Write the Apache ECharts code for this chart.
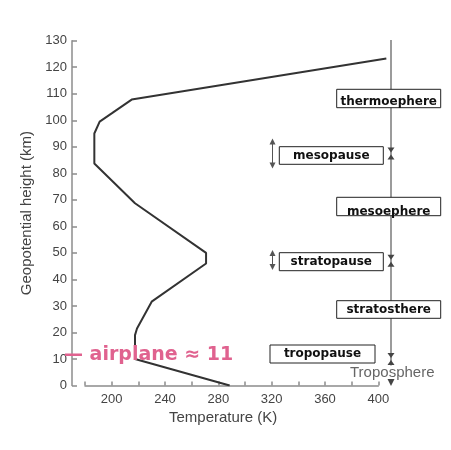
<!DOCTYPE html>
<html>
<head>
<meta charset="utf-8">
<script src="https://cdn.jsdelivr.net/npm/echarts@6/dist/echarts.min.js"></script>
<style>html,body{margin:0;padding:0;background:#fff;}#c{width:451px;height:450px;}</style>
</head>
<body>
<div id="c"></div>
<script>
// Temperature profile (K) vs geopotential height (km)
const temperature = [288.5, 217.5, 217.5, 219, 230, 270.8, 270.8, 217.5, 187, 187, 191, 200, 215, 406];
const heightKm    = [0,     10,    19,    21.5, 31.6, 46,   50,    68.7,  83.7, 95, 99.5, 102.6, 107.8, 123.3];
const xTickLabels = [200, 240, 280, 320, 360, 400];
const layerBoundaries = [10, 47, 87.5];   // tropopause, stratopause, mesopause
const layerBoxes = ['thermoephere', 'mesopause', 'mesoephere', 'stratopause', 'stratosthere', 'tropopause'];

const chart = echarts.init(document.getElementById('c'), null, {renderer: 'canvas'});
const axisCol = '#8c8c8c';
const labCol = '#444';
const font = '"Liberation Sans", Arial, sans-serif';
const pxPerK = 26.667 / 20;
const gLeft = 85, gTop = 40.7, gBottom = 64.5;
const gRight0 = 451 - gLeft - 220 * pxPerK;   // axis 180..400
const gRight1 = 451 - gLeft - 230 * pxPerK;   // hidden data grid 180..410 (same scale)

chart.setOption({
  animation: false,
  grid: [
    {left: gLeft, right: gRight0, top: gTop, bottom: gBottom},
    {left: gLeft, right: gRight1, top: gTop, bottom: gBottom}
  ],
  xAxis: [{
    gridIndex: 0, type: 'value', min: 180, max: 400, interval: 20,
    name: 'Temperature (K)', nameLocation: 'middle', nameGap: 21,
    nameTextStyle: {color: labCol, fontSize: 15, fontFamily: font, padding: [0, 17, 0, 0]},
    axisLine: {lineStyle: {color: axisCol, width: 1.5}},
    axisTick: {inside: true, length: 4, lineStyle: {color: axisCol, width: 1.5}},
    axisLabel: {color: labCol, fontSize: 13, fontFamily: font, margin: 7,
      formatter: v => xTickLabels.indexOf(v) >= 0 ? String(v) : ''},
    splitLine: {show: false}
  }, {
    gridIndex: 1, type: 'value', min: 180, max: 410, show: false, splitLine: {show: false}
  }],
  yAxis: [{
    gridIndex: 0, type: 'value', min: 0, max: 130, interval: 10, offset: 13,
    name: 'Geopotential height (km)', nameLocation: 'middle', nameGap: 37,
    nameTextStyle: {color: labCol, fontSize: 15, fontFamily: font},
    axisLine: {show: true, lineStyle: {color: axisCol, width: 1.5}},
    axisTick: {show: true, inside: true, length: 5, lineStyle: {color: axisCol, width: 1.5}},
    axisLabel: {color: labCol, fontSize: 13, fontFamily: font, margin: 5},
    splitLine: {show: false}
  }, {
    gridIndex: 1, type: 'value', min: 0, max: 130, show: false, splitLine: {show: false}
  }],
  series: [{
    type: 'line', xAxisIndex: 1, yAxisIndex: 1, symbol: 'none',
    data: temperature.map((t, i) => [t, heightKm[i]]),
    lineStyle: {color: '#333', width: 2}
  }]
});

// annotation layer
const lineX = 391;
const g = [];
g.push({type: 'line', shape: {x1: lineX, y1: 40, x2: lineX, y2: 383}, style: {stroke: '#7a7a7a', lineWidth: 1.5}, z: 10});
function pairArrows(y) {
  g.push({type: 'polygon', shape: {points: [[lineX - 3.5, y - 6], [lineX + 3.5, y - 6], [lineX, y - 1]]}, style: {fill: '#444'}, z: 12});
  g.push({type: 'polygon', shape: {points: [[lineX - 3.5, y + 6], [lineX + 3.5, y + 6], [lineX, y + 1]]}, style: {fill: '#444'}, z: 12});
}
layerBoundaries.forEach(h => pairArrows(chart.convertToPixel({yAxisIndex: 0}, h)));
g.push({type: 'polygon', shape: {points: [[lineX - 3.5, 379], [lineX + 3.5, 379], [lineX, 386]]}, style: {fill: '#444'}, z: 12});
g.push({type: 'text', x: 350, y: 373, style: {text: 'Troposphere', fill: '#666', font: '15px ' + font, textVerticalAlign: 'middle', backgroundColor: '#fff'}, z: 11});

// boxes
const boxRects = [
  [336.7, 89.3, 104, 18.4],
  [279.3, 146.7, 104, 17.6],
  [336.7, 197.3, 104, 18.4],
  [279.3, 252.7, 104, 18],
  [336.7, 300.7, 104, 17.6],
  [270, 345, 105, 18]
];
const textDy = [3, 0, 5, 0, 0, 0];
boxRects.forEach((r, i) => {
  g.push({type: 'rect', shape: {x: r[0], y: r[1], width: r[2], height: r[3]}, style: {fill: '#fff', stroke: '#222', lineWidth: 1}, z: 13});
  g.push({type: 'text', x: r[0] + r[2] / 2, y: r[1] + r[3] / 2 + textDy[i], style: {text: layerBoxes[i], fill: '#111', font: 'bold 12px "DejaVu Sans", sans-serif', textAlign: 'center', textVerticalAlign: 'middle'}, z: 14});
});
function dbl(y1, y2) {
  const x = 272.5;
  g.push({type: 'line', shape: {x1: x, y1: y1 + 3, x2: x, y2: y2 - 3}, style: {stroke: '#555', lineWidth: 1}, z: 12});
  g.push({type: 'polygon', shape: {points: [[x - 3, y1 + 6], [x + 3, y1 + 6], [x, y1]]}, style: {fill: '#555'}, z: 12});
  g.push({type: 'polygon', shape: {points: [[x - 3, y2 - 6], [x + 3, y2 - 6], [x, y2]]}, style: {fill: '#555'}, z: 12});
}
dbl(138.5, 168.5);
dbl(250, 270);
g.push({type: 'text', x: 64, y: 355, style: {text: '— airplane ≈ 11', fill: '#e0628f', font: 'bold 19px "DejaVu Sans", sans-serif', textVerticalAlign: 'middle'}, z: 20});

chart.setOption({graphic: g});
</script>
</body>
</html>
